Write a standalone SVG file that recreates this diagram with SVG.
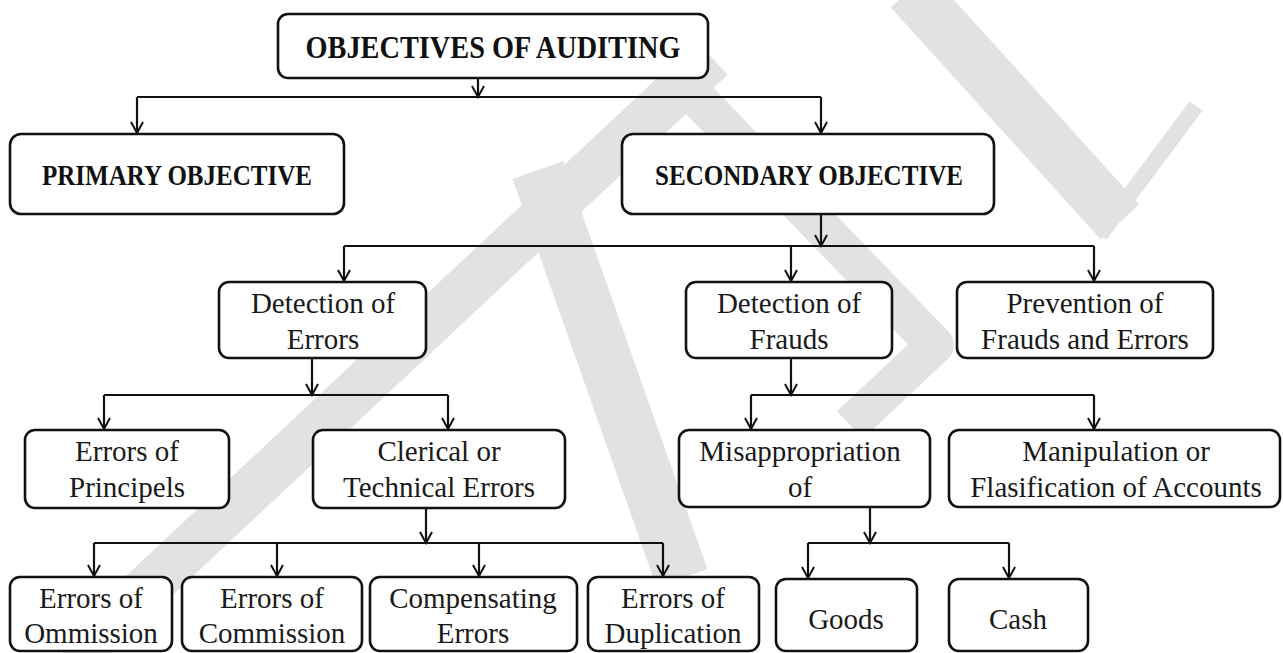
<svg xmlns="http://www.w3.org/2000/svg" width="1283" height="653" viewBox="0 0 1283 653">
<defs>
<style>
.wm{fill:none;stroke:#e2e2e2;stroke-linecap:butt;stroke-linejoin:round}
.box{fill:#fff;stroke:#111;stroke-width:2.6}
.t{font-family:"Liberation Serif","Times New Roman",serif;font-size:29px;fill:#1a1a1a;text-anchor:middle}
.b{font-family:"Liberation Serif","Times New Roman",serif;font-weight:bold;fill:#111;text-anchor:middle}
.c{fill:none;stroke:#111;stroke-width:2.2}
</style>
<marker id="ah" viewBox="0 -7 14 14" refX="12" refY="0" markerWidth="14" markerHeight="14" markerUnits="userSpaceOnUse" orient="auto">
<path d="M1,-6 L12,0 L1,6" fill="none" stroke="#111" stroke-width="2"/>
</marker>
</defs>
<rect width="1283" height="653" fill="#fff"/>
<g id="watermark">
<path class="wm" d="M70,660 L712,58" stroke-width="46"/>
<path class="wm" d="M538,170 L682,578" stroke-width="54"/>
<path class="wm" d="M670,70 L935,345 L850,425" stroke-width="38"/>
<path class="wm" d="M910,-10 L1120,222" stroke-width="52"/>
<path class="wm" d="M1100,235 L1196,106" stroke-width="16"/>
</g>
<g id="connectors">
<path class="c" d="M478,78 V97" marker-end="url(#ah)"/>
<path class="c" d="M137,97 H821"/>
<path class="c" d="M137,97 V133" marker-end="url(#ah)"/>
<path class="c" d="M821,97 V133" marker-end="url(#ah)"/>
<path class="c" d="M821,214 V246" marker-end="url(#ah)"/>
<path class="c" d="M344,246 H1094"/>
<path class="c" d="M344,246 V281" marker-end="url(#ah)"/>
<path class="c" d="M791,246 V281" marker-end="url(#ah)"/>
<path class="c" d="M1094,246 V281" marker-end="url(#ah)"/>
<path class="c" d="M312,358 V395" marker-end="url(#ah)"/>
<path class="c" d="M104,395 H448"/>
<path class="c" d="M104,395 V429" marker-end="url(#ah)"/>
<path class="c" d="M448,395 V429" marker-end="url(#ah)"/>
<path class="c" d="M791,358 V395" marker-end="url(#ah)"/>
<path class="c" d="M751,395 H1094"/>
<path class="c" d="M751,395 V429" marker-end="url(#ah)"/>
<path class="c" d="M1094,395 V429" marker-end="url(#ah)"/>
<path class="c" d="M426,508 V543" marker-end="url(#ah)"/>
<path class="c" d="M94,543 H663"/>
<path class="c" d="M94,543 V576" marker-end="url(#ah)"/>
<path class="c" d="M277,543 V576" marker-end="url(#ah)"/>
<path class="c" d="M479,543 V576" marker-end="url(#ah)"/>
<path class="c" d="M663,543 V576" marker-end="url(#ah)"/>
<path class="c" d="M870,507 V543" marker-end="url(#ah)"/>
<path class="c" d="M808,543 H1009"/>
<path class="c" d="M808,543 V578" marker-end="url(#ah)"/>
<path class="c" d="M1009,543 V578" marker-end="url(#ah)"/>
</g>
<g id="n-objectives">
<rect class="box" x="278" y="14" width="430" height="64" rx="10"/>
<text class="b" x="493" y="58" font-size="31" textLength="375" lengthAdjust="spacingAndGlyphs">OBJECTIVES OF AUDITING</text>
</g>
<g id="n-primary">
<rect class="box" x="10" y="134" width="334" height="80" rx="11"/>
<text class="b" x="177" y="185" font-size="30" textLength="270" lengthAdjust="spacingAndGlyphs">PRIMARY OBJECTIVE</text>
</g>
<g id="n-secondary">
<rect class="box" x="622" y="134" width="372" height="80" rx="11"/>
<text class="b" x="809" y="185" font-size="30" textLength="308" lengthAdjust="spacingAndGlyphs">SECONDARY OBJECTIVE</text>
</g>
<g id="n-det-errors">
<rect class="box" x="219" y="282" width="207" height="76" rx="10"/>
<text class="t" x="323" y="313">Detection of</text>
<text class="t" x="323" y="349">Errors</text>
</g>
<g id="n-det-frauds">
<rect class="box" x="686" y="282" width="206" height="76" rx="10"/>
<text class="t" x="789" y="313">Detection of</text>
<text class="t" x="789" y="349">Frauds</text>
</g>
<g id="n-prevention">
<rect class="box" x="957" y="282" width="256" height="76" rx="10"/>
<text class="t" x="1085" y="313">Prevention of</text>
<text class="t" x="1085" y="349">Frauds and Errors</text>
</g>
<g id="n-principels">
<rect class="box" x="25" y="430" width="204" height="78" rx="10"/>
<text class="t" x="127" y="461">Errors of</text>
<text class="t" x="127" y="497">Principels</text>
</g>
<g id="n-clerical">
<rect class="box" x="313" y="430" width="252" height="78" rx="10"/>
<text class="t" x="439" y="461">Clerical or</text>
<text class="t" x="439" y="497">Technical Errors</text>
</g>
<g id="n-misappropriation">
<rect class="box" x="679" y="430" width="251" height="77" rx="10"/>
<text class="t" x="800" y="461">Misappropriation</text>
<text class="t" x="800" y="497">of</text>
</g>
<g id="n-manipulation">
<rect class="box" x="949" y="430" width="331" height="77" rx="10"/>
<text class="t" x="1116" y="461">Manipulation or</text>
<text class="t" x="1116" y="497">Flasification of Accounts</text>
</g>
<g id="n-ommission">
<rect class="box" x="10" y="577" width="162" height="74" rx="10"/>
<text class="t" x="91" y="608">Errors of</text>
<text class="t" x="91" y="643">Ommission</text>
</g>
<g id="n-commission">
<rect class="box" x="182" y="577" width="180" height="74" rx="10"/>
<text class="t" x="272" y="608">Errors of</text>
<text class="t" x="272" y="643">Commission</text>
</g>
<g id="n-compensating">
<rect class="box" x="370" y="577" width="207" height="74" rx="10"/>
<text class="t" x="473" y="608">Compensating</text>
<text class="t" x="473" y="643">Errors</text>
</g>
<g id="n-duplication">
<rect class="box" x="588" y="577" width="171" height="74" rx="10"/>
<text class="t" x="673" y="608">Errors of</text>
<text class="t" x="673" y="643">Duplication</text>
</g>
<g id="n-goods">
<rect class="box" x="776" y="579" width="141" height="72" rx="10"/>
<text class="t" x="846" y="629">Goods</text>
</g>
<g id="n-cash">
<rect class="box" x="949" y="579" width="139" height="72" rx="10"/>
<text class="t" x="1018" y="629">Cash</text>
</g>
</svg>
